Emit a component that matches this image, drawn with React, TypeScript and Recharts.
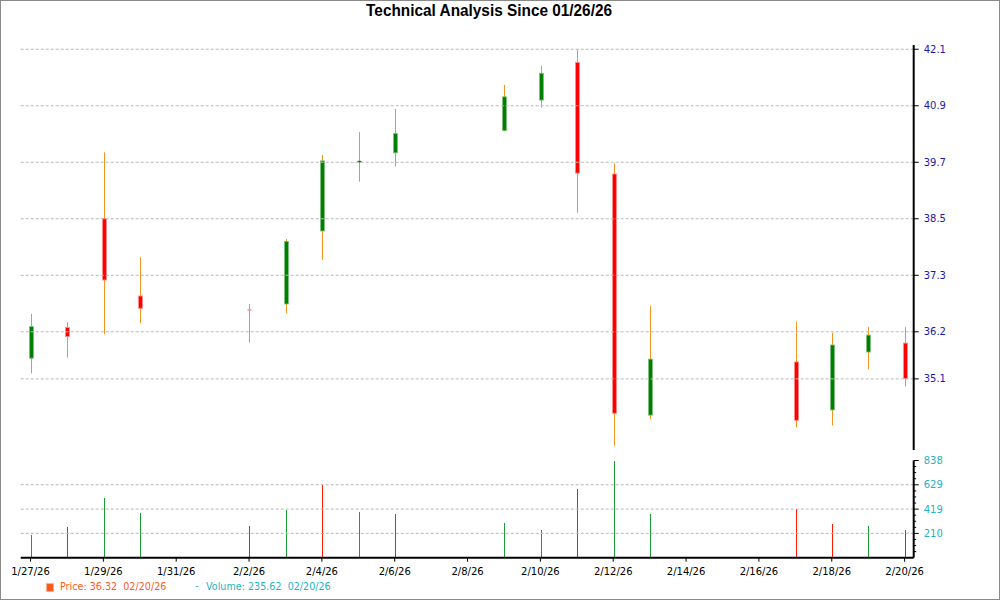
import React from 'react';
import { ComposedChart, Bar, XAxis, YAxis, ReferenceLine } from 'recharts';

const dates = ['01/27/26','01/28/26','01/29/26','01/30/26','02/02/26','02/03/26','02/04/26','02/05/26','02/06/26','02/09/26','02/10/26','02/11/26','02/12/26','02/13/26','02/17/26','02/18/26','02/19/26','02/20/26'];
const dayOffsets = [0,1,2,3,6,7,8,9,10,13,14,15,16,17,21,22,23,24];
const opens  = [35.54,36.19,38.50,36.86,36.58,36.69,38.24,39.71,39.90,40.37,41.02,41.82,39.45,34.33,35.46,34.44,35.67,35.86];
const highs  = [36.48,36.30,39.91,37.68,36.69,38.07,39.85,40.34,40.83,41.34,41.75,42.10,39.68,36.65,36.31,36.08,36.20,36.20];
const lows   = [35.22,35.55,36.05,36.28,35.87,36.49,37.63,39.29,39.61,40.36,40.86,38.63,33.68,34.24,34.07,34.11,35.30,34.94];
const closes = [36.21,36.00,37.20,36.60,36.56,38.02,39.73,39.73,40.31,41.09,41.59,39.47,34.37,35.52,34.22,35.82,36.03,35.11];
const volumes = [200,265,516,386,274,415,628,395,378,300,239,594,838,378,418,291,274,236];
const volumeUp = [true,false,true,true,false,true,false,true,false,true,true,false,true,true,false,false,true,false];

const xTickDays = [0,2,4,6,8,10,12,14,16,18,20,22,24];
const xTickLabels = ['1/27/26','1/29/26','1/31/26','2/2/26','2/4/26','2/6/26','2/8/26','2/10/26','2/12/26','2/14/26','2/16/26','2/18/26','2/20/26'];
const priceTickValues = [42.1, 40.9, 39.7, 38.5, 37.3, 36.1, 35.1];
const priceTickLabels = ['42.1','40.9','39.7','38.5','37.3','36.2','35.1'];
const priceDomain = [33.59, 42.19];
const volumeMax = 838;
const volumeLabelled = [210, 419, 629, 838];
const volumeGrid = [210, 419, 629];

const legendPrice = 'Price: 36.32  02/20/26';
const legendVolume = 'Volume: 235.62  02/20/26';
const title = 'Technical Analysis Since 01/26/26';

const data = dates.map((d, i) => ({
  date: d,
  day: dayOffsets[i],
  open: opens[i],
  high: highs[i],
  low: lows[i],
  close: closes[i],
  volume: volumes[i],
  volUp: volumeUp[i],
}));

const volumeStep = volumeMax / 16;
const volumeTicks = Array.from({ length: 17 }, (_, i) => i * volumeStep);

const FONT = '"DejaVu Sans", Verdana, sans-serif';
const PRICE_COLOR = '#1a1aa6';
const VOL_COLOR = '#1fb2c2';
const WICK = '#f39420';

const Candle = (props: any) => {
  const { x, y, width, height, payload } = props;
  if (!payload || height == null) return null;
  const { open, close, high, low } = payload;
  const k = height / (high - low);
  const yOf = (v: number) => y + (high - v) * k;
  const cx = Math.round(x + width / 2) + 0.5;
  const up = close >= open;
  const top = yOf(Math.max(open, close));
  const bot = yOf(Math.min(open, close));
  const bh = Math.max(bot - top, 1.5);
  const doji = Math.abs(close - open) < 0.05;
  const fill = up ? '#008000' : '#ff0000';
  const stroke = up ? '#7fbf7f' : '#ff8a8a';
  return (
    <g>
      <line x1={cx} x2={cx} y1={y} y2={y + height} stroke={WICK} strokeWidth={1} />
      <rect
        x={cx - 2}
        y={top}
        width={4}
        height={bh}
        fill={doji && !up ? '#ff9090' : fill}
        stroke={stroke}
        strokeWidth={doji ? 0 : 0.8}
      />
    </g>
  );
};

const VolBar = (props: any) => {
  const { x, y, width, height, payload } = props;
  if (!payload) return null;
  return (
    <rect
      x={Math.round(x + width / 2)}
      y={y}
      width={1}
      height={height}
      fill={payload.volUp ? '#1a9c38' : '#ff1a00'}
      shapeRendering="crispEdges"
    />
  );
};

const PriceTick = (props: any) => {
  const { x, y, payload } = props;
  const idx = priceTickValues.findIndex((v) => Math.abs(v - payload.value) < 1e-6);
  return (
    <g>
      <line x1={x} x2={x + 5} y1={y} y2={y} stroke="#000" strokeWidth={1} />
      <text x={x + 10} y={y} dy={3.6} fontSize={10} fontFamily={FONT} fill={PRICE_COLOR} textAnchor="start">
        {idx >= 0 ? priceTickLabels[idx] : ''}
      </text>
    </g>
  );
};

const VolTick = (props: any) => {
  const { x, y, payload } = props;
  const i = Math.round(payload.value / volumeStep);
  const major = i % 4 === 0;
  const label = volumeLabelled.find((v) => Math.abs(v - payload.value) < 1);
  return (
    <g>
      {i > 0 && <line x1={x} x2={x + (major ? 5 : 2.5)} y1={y} y2={y} stroke="#000" strokeWidth={1} />}
      {major && i > 0 && label !== undefined && (
        <text x={x + 10} y={y} dy={3.6} fontSize={10} fontFamily={FONT} fill={VOL_COLOR} textAnchor="start">
          {String(label)}
        </text>
      )}
    </g>
  );
};

const DateTick = (props: any) => {
  const { x, y, payload } = props;
  const idx = xTickDays.indexOf(payload.value);
  return (
    <g>
      <line x1={x} x2={x} y1={y} y2={y + 4} stroke="#000" strokeWidth={1} />
      <text x={x} y={y + 17} fontSize={10} fontFamily={FONT} fill="#000" textAnchor="middle">
        {idx >= 0 ? xTickLabels[idx] : ''}
      </text>
    </g>
  );
};

const xDomain: [number, number] = [-0.27, 24.25];
const gridStroke = '#b8b8b8';

export default function App() {
  return (
    <div
      style={{
        position: 'absolute',
        left: 0,
        top: 0,
        width: 1000,
        height: 600,
        background: '#fff',
        boxSizing: 'border-box',
        border: '1px solid #8a8a8a',
        overflow: 'hidden',
      }}
    >
      <div
        style={{
          position: 'absolute',
          left: 0,
          top: 1,
          width: 976,
          textAlign: 'center',
        }}
      >
        <span
          style={{
            display: 'inline-block',
            transform: 'scaleX(0.96)',
            fontFamily: '"Liberation Sans", Arial, sans-serif',
            fontWeight: 'bold',
            fontSize: 16,
            color: '#000',
          }}
        >
          {title}
        </span>
      </div>

      <div style={{ position: 'absolute', left: -1, top: -1 }}>
        <ComposedChart
          width={1000}
          height={460}
          data={data}
          margin={{ top: 45, right: 26.3, bottom: 10, left: 20.7 }}
        >
          <XAxis dataKey="day" type="number" domain={xDomain} hide allowDataOverflow />
          <YAxis
            yAxisId="p"
            orientation="right"
            type="number"
            domain={priceDomain}
            allowDataOverflow
            ticks={priceTickValues}
            interval={0}
            width={60}
            tickLine={false}
            tickSize={0}
            tickMargin={0}
            axisLine={{ stroke: '#000', strokeWidth: 2 }}
            tick={<PriceTick />}
          />
          {priceTickValues.map((v) => (
            <ReferenceLine key={v} yAxisId="p" y={v} stroke={gridStroke} strokeDasharray="3 2" />
          ))}
          <Bar
            yAxisId="p"
            dataKey={(d: any) => [d.low, d.high]}
            barSize={5}
            shape={<Candle />}
            isAnimationActive={false}
          />
        </ComposedChart>
      </div>

      <div style={{ position: 'absolute', left: -1, top: -1 }}>
        <ComposedChart
          width={1000}
          height={600}
          data={data}
          margin={{ top: 460.5, right: 26.3, bottom: 12.3, left: 20.7 }}
        >
          <XAxis
            dataKey="day"
            type="number"
            domain={xDomain}
            allowDataOverflow
            ticks={xTickDays}
            interval={0}
            height={30}
            tickLine={false}
            tickSize={0}
            tickMargin={0}
            axisLine={{ stroke: '#000', strokeWidth: 2 }}
            tick={<DateTick />}
          />
          <YAxis
            yAxisId="v"
            orientation="right"
            type="number"
            domain={[0, volumeMax]}
            allowDataOverflow
            ticks={volumeTicks}
            interval={0}
            width={60}
            tickLine={false}
            tickSize={0}
            tickMargin={0}
            axisLine={{ stroke: '#000', strokeWidth: 2 }}
            tick={<VolTick />}
          />
          {volumeGrid.map((v) => (
            <ReferenceLine key={v} yAxisId="v" y={v} stroke={gridStroke} strokeDasharray="3 2" />
          ))}
          <Bar yAxisId="v" dataKey="volume" barSize={1} shape={<VolBar />} isAnimationActive={false} />
        </ComposedChart>
      </div>

      <div style={{ position: 'absolute', left: 0, top: 579, width: 400, height: 16, fontFamily: FONT, fontSize: 9.6, whiteSpace: 'pre' }}>
        <span
          style={{
            position: 'absolute',
            left: 45,
            top: 3,
            width: 6,
            height: 7,
            background: '#ff5a1e',
            border: '0.5px solid #ffb08a',
          }}
        />
        <span style={{ position: 'absolute', left: 59, top: 1, color: '#ff5a1e' }}>{legendPrice}</span>
        <span style={{ position: 'absolute', left: 194, top: 0, color: VOL_COLOR }}>{'-'}</span>
        <span style={{ position: 'absolute', left: 205, top: 1, color: VOL_COLOR }}>{legendVolume}</span>
      </div>
    </div>
  );
}
